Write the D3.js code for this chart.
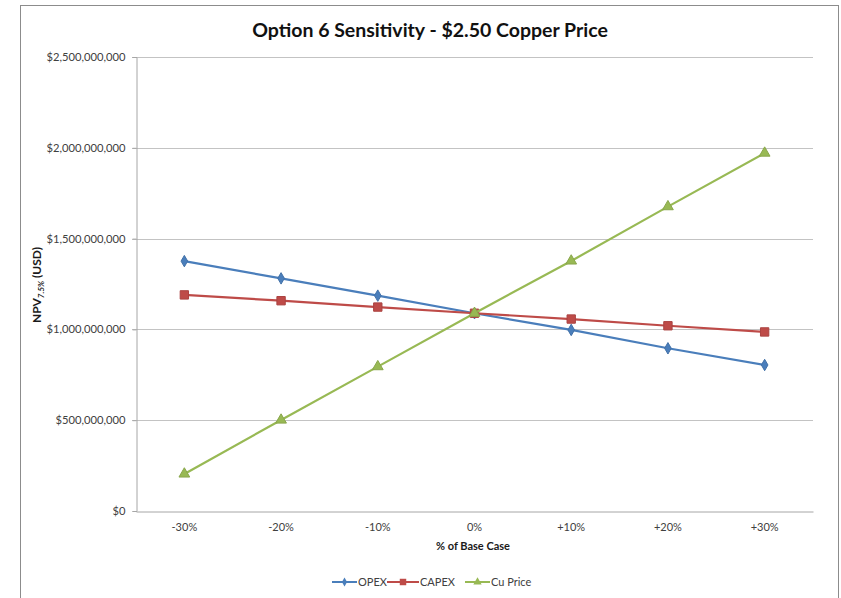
<!DOCTYPE html>
<html>
<head>
<meta charset="utf-8">
<script src="https://cdn.jsdelivr.net/npm/d3@7"></script>
<style>
  body { margin: 0; background: #fff; }
  svg text { font-family: Lato, "Open Sans", sans-serif; }
</style>
</head>
<body>
<div id="chart"></div>
<script>
// chart data
var categories = ["-30%", "-20%", "-10%", "0%", "+10%", "+20%", "+30%"];
var opexValues = [1376e6, 1281e6, 1186e6, 1089e6, 997e6, 896e6, 804e6];
var capexValues = [1190e6, 1158e6, 1123e6, 1089e6, 1057e6, 1020e6, 986e6];
var cuPriceValues = [204e6, 501e6, 795e6, 1089e6, 1377e6, 1676e6, 1971e6];
var yTicks = [0, 500e6, 1000e6, 1500e6, 2000e6, 2500e6];
var seriesNames = ["OPEX", "CAPEX", "Cu Price"];

function start(){
    var width = 841, height = 598;
    var margin = {top: 57, right: 28, bottom: 87, left: 136};

    var svg = d3.select("#chart").append("svg")
        .attr("width", width)
        .attr("height", height);

    // outer chart frame
    svg.append("rect")
        .attr("x", 20.5).attr("y", 5.5)
        .attr("width", 818).attr("height", 610)
        .attr("fill", "#fff")
        .attr("stroke", "#8c8c8c");

    var xScale = d3.scaleBand()
        .domain(categories)
        .range([margin.left, width - margin.right]);

    var yScale = d3.scaleLinear()
        .domain([0, 2500e6])
        .range([height - margin.bottom, margin.top]);

    // gridlines
    svg.append("g")
        .selectAll("line")
        .data(yTicks.filter(d => d > 0))
        .enter().append("line")
        .attr("x1", margin.left - 4)
        .attr("x2", width - margin.right)
        .attr("y1", d => Math.round(yScale(d)) + 0.5)
        .attr("y2", d => Math.round(yScale(d)) + 0.5)
        .attr("stroke", "#c3c3c3");

    // y axis
    var yAxis = svg.append("g")
        .attr("transform", "translate(" + (margin.left + 0.5) + ",0)")
        .call(d3.axisLeft(yScale)
            .tickValues(yTicks)
            .tickSize(4)
            .tickPadding(7)
            .tickFormat(d => "$" + d3.format(",")(d)));
    yAxis.select(".domain").attr("stroke", "#a6a6a6");
    yAxis.selectAll(".tick line").attr("stroke", "#a6a6a6");
    yAxis.selectAll("text")
        .style("font-size", "11.2px")
        .attr("fill", "#404040");

    // x axis
    var xAxis = svg.append("g")
        .attr("transform", "translate(0," + (Math.round(yScale(0)) + 0.5) + ")")
        .call(d3.axisBottom(xScale).tickSize(0).tickPadding(12));
    xAxis.select(".domain").attr("stroke", "#a6a6a6");
    xAxis.selectAll("text")
        .style("font-size", "11px")
        .attr("fill", "#404040");

    var series = [
        {name: seriesNames[0], values: opexValues, color: "#4a7ebb", marker: d3.symbolDiamond, size: 38},
        {name: seriesNames[1], values: capexValues, color: "#be4b48", marker: d3.symbolSquare, size: 70},
        {name: seriesNames[2], values: cuPriceValues, color: "#98b954", marker: d3.symbolTriangle, size: 50}
    ];

    var line = d3.line()
        .x((d, i) => xScale(categories[i]) + xScale.bandwidth() / 2)
        .y(d => yScale(d));

    series.forEach(function(s){
        svg.append("path")
            .datum(s.values)
            .attr("d", line)
            .attr("fill", "none")
            .attr("stroke", s.color)
            .attr("stroke-width", 2.2);

        svg.append("g")
            .selectAll("path")
            .data(s.values)
            .enter().append("path")
            .attr("d", d3.symbol().type(s.marker).size(s.size))
            .attr("transform", (d, i) => "translate(" + (xScale(categories[i]) + xScale.bandwidth() / 2) + "," + yScale(d) + ")")
            .attr("fill", s.color)
            .attr("stroke", d3.color(s.color).darker(0.3));
    });

    // title
    svg.append("text")
        .attr("x", 430)
        .attr("y", 37)
        .attr("text-anchor", "middle")
        .style("font-size", "19.5px")
        .style("font-weight", "bold")
        .attr("fill", "#111")
        .text("Option 6 Sensitivity - $2.50 Copper Price");

    // axis titles
    svg.append("text")
        .attr("x", 473)
        .attr("y", 550)
        .attr("text-anchor", "middle")
        .style("font-size", "11px")
        .style("font-weight", "bold")
        .attr("fill", "#1a1a1a")
        .text("% of Base Case");

    var yTitle = svg.append("text")
        .attr("transform", "translate(41,285) rotate(-90)")
        .attr("text-anchor", "middle")
        .style("font-size", "12px")
        .style("font-weight", "bold")
        .attr("fill", "#1a1a1a");
    yTitle.append("tspan").text("NPV");
    yTitle.append("tspan")
        .attr("dy", 3)
        .style("font-size", "8px")
        .style("font-style", "italic")
        .text("7.5%");
    yTitle.append("tspan").attr("dy", -3).text(" (USD)");

    // legend
    var legendX = [332, 387, 465];
    var legend = svg.append("g");
    series.forEach(function(s, i){
        var g = legend.append("g").attr("transform", "translate(" + legendX[i] + ",582)");
        var w = i == 1 ? 32 : 25;
        g.append("line")
            .attr("x1", 0).attr("x2", w)
            .attr("stroke", s.color)
            .attr("stroke-width", 2);
        g.append("path")
            .attr("d", d3.symbol().type(s.marker).size(s.size * 0.6))
            .attr("transform", "translate(" + (w / 2) + ",0)")
            .attr("fill", s.color);
        g.append("text")
            .attr("x", w + 1)
            .attr("y", 4)
            .style("font-size", "11px")
            .attr("fill", "#404040")
            .text(s.name);
    });
}

start();
</script>
</body>
</html>
